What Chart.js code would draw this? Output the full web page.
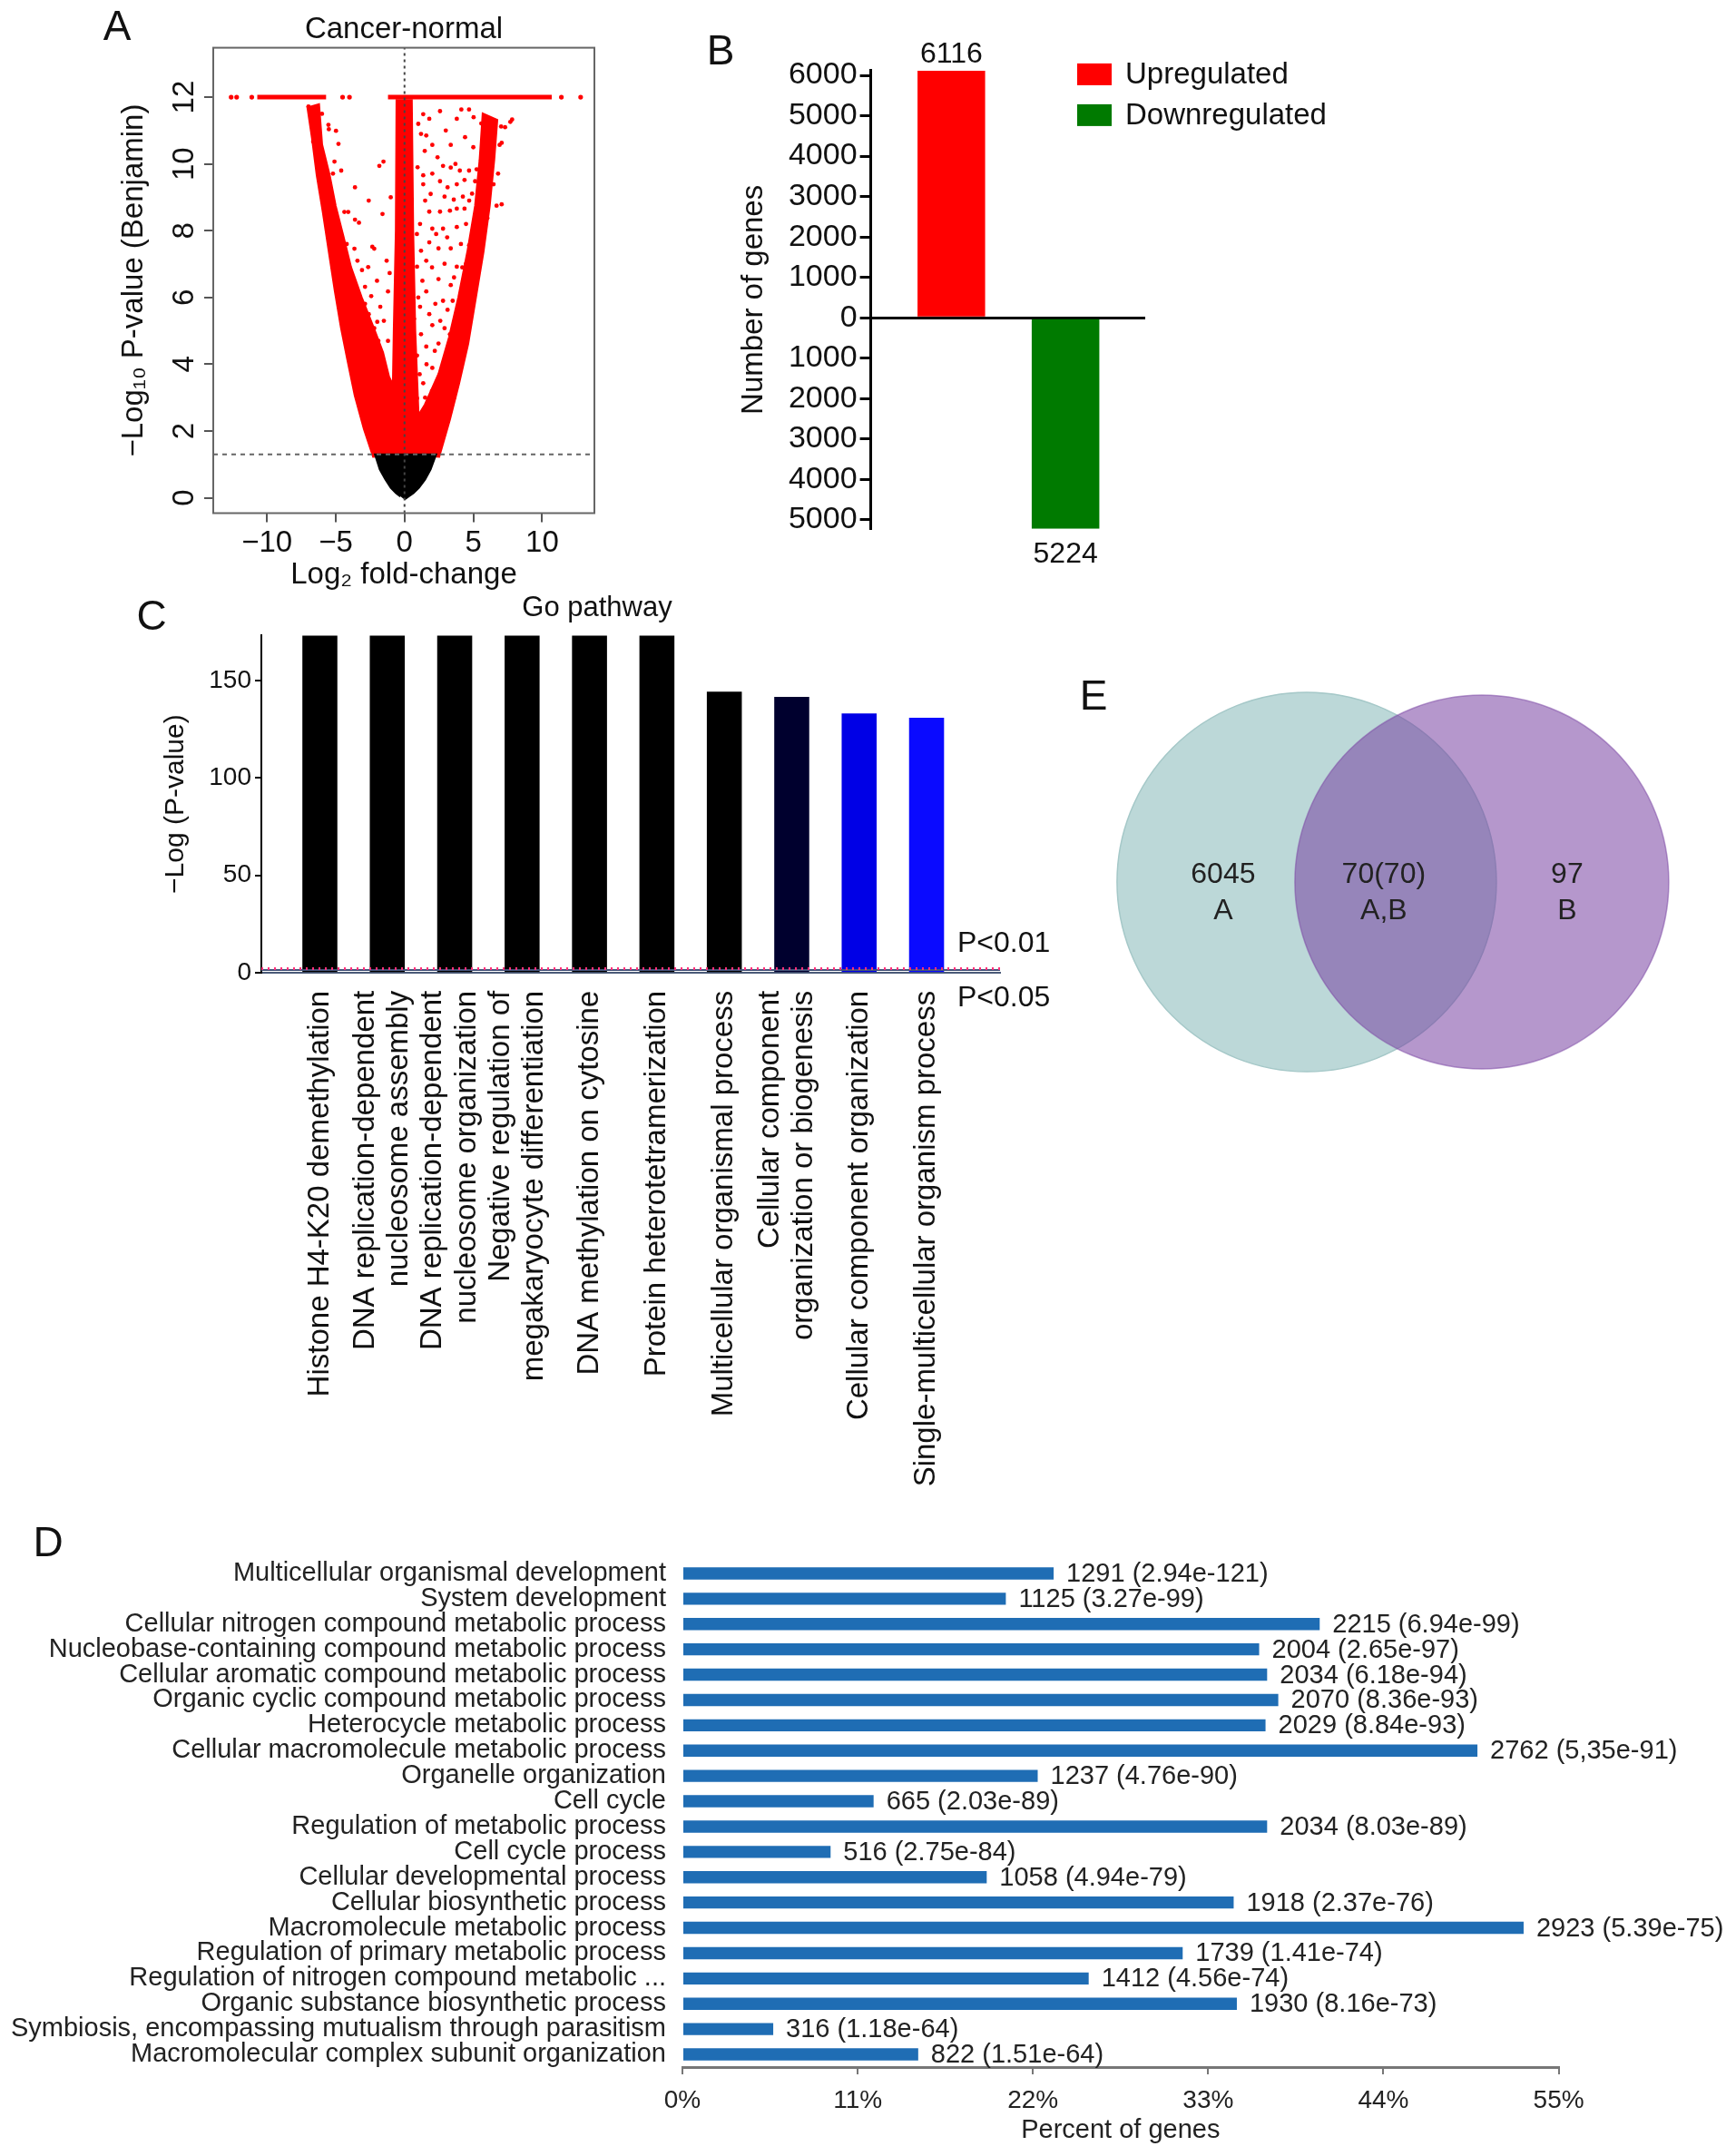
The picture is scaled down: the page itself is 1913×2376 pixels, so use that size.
<!DOCTYPE html>
<html><head><meta charset="utf-8">
<script src="https://cdn.jsdelivr.net/npm/chart.js@4.4.1/dist/chart.umd.min.js"></script>
<style>
html,body{margin:0;padding:0;background:#fff;}
#page{position:relative;width:1913px;height:2376px;overflow:hidden;background:#fff;font-family:'Liberation Sans',Arial,sans-serif;}
canvas{position:absolute;}
.letter{position:absolute;font-size:46px;line-height:46px;color:#111;transform:translate(-50%,-50%);font-family:'Liberation Sans',Arial,sans-serif;}
</style></head><body>
<div id="page">
<canvas id="cA" width="600" height="660" style="left:90px;top:0px"></canvas>
<canvas id="cB" width="720" height="620" style="left:760px;top:20px"></canvas>
<canvas id="cC" width="1060" height="1040" style="left:135px;top:640px"></canvas>
<canvas id="cE" width="720" height="480" style="left:1180px;top:720px"></canvas>
<canvas id="cD" width="1913" height="716" style="left:0px;top:1660px"></canvas>
<div class="letter" style="left:129px;top:28px">A</div>
<div class="letter" style="left:794px;top:55px">B</div>
<div class="letter" style="left:167px;top:678px">C</div>
<div class="letter" style="left:53px;top:1699px">D</div>
<div class="letter" style="left:1205px;top:766px">E</div>
</div>
<script>
// ---------------- DATA ----------------
// Panel A: volcano plot (Log2 fold-change vs -log10 adjusted P)
const volcanoXTicks = [-10, -5, 0, 5, 10];
const volcanoYTicks = [0, 2, 4, 6, 8, 10, 12];
const volcanoPThreshold = 1.3;      // -log10(0.05)
const volcanoTopLevel = 12;         // capped values
const volcanoTopSegments = [[-10.7, -5.7], [-1.2, 10.7]];
const volcanoTopSingles = [-12.6, -12.2, -11.1, -4.5, -4.0, 11.4, 12.8];
// outlines of the densely packed point clouds
const volcanoBlackCore = [[0,-0.05],[0.3,0.04],[0.65,0.14],[1.05,0.3],[1.5,0.55],[1.9,0.85],[2.3,1.3],[-2.15,1.3],[-1.8,0.85],[-1.4,0.55],[-1.0,0.3],[-0.62,0.14],[-0.3,0.04]];
const volcanoRedLeft = [[-0.7,1.3],[-2.26,1.24],[-2.92,2.06],[-3.59,3.07],[-4.14,4.17],[-4.58,5.08],[-5.03,6.18],[-5.47,7.37],[-5.91,8.56],[-6.35,9.66],[-6.69,10.76],[-7.02,11.68],[-6.24,11.77],[-6.02,10.58],[-5.47,9.66],[-5.03,8.74],[-4.47,7.83],[-3.92,6.91],[-3.14,6.0],[-2.26,5.08],[-1.59,4.35],[-1.15,3.62],[-0.71,3.25]];
const volcanoRedCenter = [[-0.9,1.3],[-0.75,5],[-0.6,8],[-0.55,11.9],[0.5,11.9],[0.6,8],[0.75,5],[1.1,1.3]];
const volcanoRedRight = [[0.6,1.3],[2.5,1.24],[3.27,2.34],[3.94,3.43],[4.6,4.62],[5.16,6.0],[5.71,7.37],[6.16,8.74],[6.49,10.12],[6.71,11.31],[5.71,11.49],[5.49,10.12],[5.16,8.74],[4.6,7.37],[3.94,6.0],[3.27,4.81],[2.5,3.71],[1.51,2.79],[0.84,2.34]];
// individually visible points
const volcanoScatter = [
 [1.36,11.49],[1.8,11.35],[2.58,11.58],[3.8,11.35],[4.13,11.63],[4.69,11.63],[5.02,11.4],[5.58,11.21],[6.02,11.3],[7.02,11.12],[7.69,11.26],
 [5.8,10.99],[6.47,10.76],[6.91,10.57],[1.58,10.85],[2.02,10.57],[1.47,10.39],[3.36,10.57],[5.8,10.3],[6.24,10.02],
 [2.8,9.94],[3.36,9.89],[4.02,9.8],[4.69,9.8],[5.24,9.84],[1.36,9.66],[2.02,9.71],[2.58,9.48],[3.13,9.3],[3.8,9.39],[4.36,9.52],[5.13,9.48],[6.02,9.57],[6.47,9.39],[1.36,9.39],
 [2.91,9.02],[3.58,8.93],[4.24,9.02],[4.91,9.11],[5.8,9.02],[6.69,8.75],[2.58,8.57],[1.8,8.57],[3.8,8.66],[4.36,8.66],[5.13,8.47],[6.02,8.38],
 [1.13,8.2],[2.02,8.06],[2.8,8.06],[3.8,8.11],[4.47,8.2],[5.58,7.83],[1.8,7.65],[2.47,7.47],[3.36,7.47],[4.69,7.56],
 [1.58,7.1],[2.91,7.01],[3.8,6.92],[4.47,7.01],[0.91,6.92],[2.47,6.55],[3.36,6.37],[4.24,6.28],[4.91,6.37],[1.58,6.18],
 [1.13,5.72],[2.24,5.81],[3.13,5.63],[4.02,5.81],[4.69,5.72],[0.69,5.36],[2.02,5.17],[2.91,5.08],[3.8,5.08],
 [1.58,4.53],[2.47,4.62],[3.36,4.35],[0.91,4.26],[2.02,3.89],[1.36,3.43],[1.8,2.8],[0.91,2.98],[0.69,1.97],[1.36,2.34],[2.24,3.25],[2.91,3.7],[3.8,4.17],
 [1.2,10.9],[2.4,10.2],[3.0,11.0],[4.4,10.8],[5.0,10.5],[3.7,10.0],[1.9,9.1],[3.3,8.6],[4.7,8.9],[1.5,8.9],[2.3,7.9],[3.1,7.8],[4.1,7.6],[1.2,7.4],
 [2.0,6.9],[3.6,6.6],[4.2,6.9],[1.3,6.5],[2.8,5.9],[3.5,5.9],[4.3,5.3],[1.8,5.5],[2.6,5.3],[3.3,4.9],[1.2,4.9],[2.2,4.4],[3.0,4.1],[1.6,4.0],
 [2.6,3.3],[1.1,3.7],[2.0,3.2],[1.5,3.0],[3.3,3.8],[3.6,3.0],[2.9,2.8],[1.0,6.0],[0.9,7.9],[0.95,9.9],[1.0,11.2],
 [7.82,11.33],[7.31,11.1],[7.06,10.63],[7.06,8.79],[6.8,9.71],
 [-6.98,11.72],[-6.76,11.5],[-6.64,11.13],[-6.2,11.03],[-5.53,11.17],[-4.98,10.99],[-6.64,10.67],[-6.31,10.21],[-5.98,10.07],[-5.09,10.07],[-5.2,9.71],
 [-4.09,8.56],[-3.31,8.24],[-4.2,7.6],[-2.2,7.46],[-3.09,6.82],[-2.64,6.91],[-2.87,6.32],[-2.42,6.04],[-1.76,5.72],[-1.98,5.27],[-1.53,10.07],
 [-1.3,7.1],[-1.08,6.73],[-1.2,6.18],[-3.64,7.46],[-3.42,7.1],[-2.87,5.81],[-2.2,5.08],[-5.5,11.04],[-4.37,8.56],[-3.6,8.33],[-2.34,7.52],[-1.83,9.94],
 [-1.6,8.5],[-2.6,8.9],[-3.6,9.3],[-4.6,9.8],[-2.0,6.5],[-1.5,5.3],[-2.6,5.5],[-3.3,5.9],[-1.2,4.7],[-1.9,4.7],[-2.7,4.9],[-3.6,5.3],[-1.0,9.0],[-4.8,10.6],[-6.0,11.5]
];

// Panel B: numbers of differentially expressed genes
const bSeries = ['Upregulated', 'Downregulated'];
const bValues = [6116, -5224];
const bYTicks = [-5000,-4000,-3000,-2000,-1000,0,1000,2000,3000,4000,5000,6000];

// Panel C: GO pathway enrichment
const cCategories = [
 'Histone H4-K20 demethylation',
 ['DNA replication-dependent','nucleosome assembly'],
 ['DNA replication-dependent','nucleosome organization'],
 ['Negative regulation of','megakaryocyte differentiation'],
 'DNA methylation on cytosine',
 'Protein heterotetramerization',
 'Multicellular organismal process',
 ['Cellular component','organization or biogenesis'],
 'Cellular component organization',
 'Single-multicellular organism process'
];
const cValues = [173.3, 173.3, 173.3, 173.3, 173.3, 173.3, 144.3, 141.6, 133.1, 130.9];
const cColors = ['#000000','#000000','#000000','#000000','#000000','#000000','#000000','#00002e','#0000e6','#0a0aff'];
const cYTicks = [0, 50, 100, 150];
const cThresholds = [2, 1.3];
const cThresholdLabels = ['P<0.01', 'P<0.05'];

// Panel D: GO biological process
const dCategories = [
 'Multicellular organismal development','System development','Cellular nitrogen compound metabolic process',
 'Nucleobase-containing compound metabolic process','Cellular aromatic compound metabolic process',
 'Organic cyclic compound metabolic process','Heterocycle metabolic process','Cellular macromolecule metabolic process',
 'Organelle organization','Cell cycle','Regulation of metabolic process','Cell cycle process','Cellular developmental process',
 'Cellular biosynthetic process','Macromolecule metabolic process','Regulation of primary metabolic process',
 'Regulation of nitrogen compound metabolic ...','Organic substance biosynthetic process',
 'Symbiosis, encompassing mutualism through parasitism','Macromolecular complex subunit organization'
];
const dCounts = [1291,1125,2215,2004,2034,2070,2029,2762,1237,665,2034,516,1058,1918,2923,1739,1412,1930,316,822];
const dPValues = ['2.94e-121','3.27e-99','6.94e-99','2.65e-97','6.18e-94','8.36e-93','8.84e-93','5,35e-91','4.76e-90','2.03e-89','8.03e-89','2.75e-84','4.94e-79','2.37e-76','5.39e-75','1.41e-74','4.56e-74','8.16e-73','1.18e-64','1.51e-64'];
const dPercent = [23.3,20.3,40.0,36.2,36.7,37.4,36.6,49.9,22.3,12.0,36.7,9.3,19.1,34.6,52.8,31.4,25.5,34.8,5.7,14.8];
const dXTicks = [0, 11, 22, 33, 44, 55];

// Panel E: Venn diagram
const vennSets = ['A', 'B'];
const vennRegionCounts = ['6045', '70(70)', '97'];
const vennRegionNames = ['A', 'A,B', 'B'];

// ---------------- DEFAULTS ----------------
const FF = "'Liberation Sans', Arial, Helvetica, sans-serif";
Chart.defaults.font.family = FF;
Chart.defaults.color = '#111';
Chart.defaults.animation = false;
Chart.defaults.responsive = false;
Chart.defaults.maintainAspectRatio = false;
Chart.defaults.devicePixelRatio = 1;
Chart.defaults.events = [];
Chart.defaults.layout.autoPadding = false;
Chart.defaults.plugins.legend.display = false;
Chart.defaults.plugins.tooltip.enabled = false;

const pts = arr => arr.map(p => ({x: p[0], y: p[1]}));
const setTicks = vals => (s => { s.ticks = vals.map(v => ({value: v})); });

// ---------------- PANEL A ----------------
const topRowData = [];
volcanoTopSegments.forEach((s, i) => {
  if (i) topRowData.push({x: (s[0] + volcanoTopSegments[i-1][1]) / 2, y: null});
  topRowData.push({x: s[0], y: volcanoTopLevel}, {x: s[1], y: volcanoTopLevel});
});
const boxPlugin = {id: 'box', afterDraw(chart) {
  const {ctx, chartArea: a} = chart;
  ctx.save(); ctx.strokeStyle = '#666'; ctx.lineWidth = 2;
  ctx.strokeRect(a.left, a.top, a.right - a.left, a.bottom - a.top); ctx.restore();
}};
const AX = {min: -13.9, max: 13.8}, AY = {min: -0.46, max: 13.48};
new Chart(document.getElementById('cA'), {
  type: 'line',
  data: {datasets: [
    {data: pts(volcanoRedLeft), fill: 'shape', backgroundColor: '#ff0000', borderColor: '#ff0000', borderWidth: 3, pointRadius: 0, tension: 0, order: 9},
    {data: pts(volcanoRedCenter), fill: 'shape', backgroundColor: '#ff0000', borderColor: '#ff0000', borderWidth: 3, pointRadius: 0, tension: 0, order: 8},
    {data: pts(volcanoRedRight), fill: 'shape', backgroundColor: '#ff0000', borderColor: '#ff0000', borderWidth: 3, pointRadius: 0, tension: 0, order: 7},
    {data: pts(volcanoBlackCore), fill: 'shape', backgroundColor: '#000000', borderColor: '#000000', borderWidth: 2, pointRadius: 0, tension: 0, order: 6},
    {data: pts(volcanoScatter), showLine: false, pointRadius: 2.4, pointBackgroundColor: '#ff0000', pointBorderWidth: 0, order: 5},
    {data: topRowData, borderColor: '#ff0000', borderWidth: 5, pointRadius: 0, spanGaps: false, order: 4},
    {data: volcanoTopSingles.map(x => ({x, y: volcanoTopLevel})), showLine: false, pointRadius: 2.6, pointBackgroundColor: '#ff0000', pointBorderWidth: 0, order: 3},
    {data: [{x: AX.min, y: volcanoPThreshold}, {x: AX.max, y: volcanoPThreshold}], borderColor: '#666', borderWidth: 2, borderDash: [5, 5], pointRadius: 0, order: 1},
    {data: [{x: 0, y: AY.min}, {x: 0, y: AY.max}], borderColor: '#444', borderWidth: 2, borderDash: [3, 4], pointRadius: 0, order: 0}
  ]},
  options: {
    layout: {padding: {left: 0, right: 35, top: 0, bottom: 0}},
    plugins: {title: {display: true, fullSize: false, text: 'Cancer-normal', font: {size: 33, weight: 'normal'}, color: '#111', padding: {top: 13, bottom: 0}}},
    scales: {
      x: {type: 'linear', min: AX.min, max: AX.max, afterBuildTicks: setTicks(volcanoXTicks),
          ticks: {font: {size: 33}, padding: 4, maxRotation: 0, autoSkip: false, color: '#111',
                  callback: v => v < 0 ? '\u2212' + Math.abs(v) : String(v)},
          grid: {drawOnChartArea: false, tickLength: 10, color: '#555', lineWidth: 2}, border: {display: false},
          title: {display: true, text: 'Log\u2082 fold-change', font: {size: 33}, color: '#111', padding: {top: 0, bottom: 6}},
          afterFit: s => { s.height = 94.5; }},
      y: {type: 'linear', min: AY.min, max: AY.max, afterBuildTicks: setTicks(volcanoYTicks),
          ticks: {font: {size: 33}, padding: 3, minRotation: 90, maxRotation: 90, crossAlign: 'center', autoSkip: false, color: '#111'},
          grid: {drawOnChartArea: false, tickLength: 10, color: '#555', lineWidth: 2}, border: {display: false},
          title: {display: true, text: '\u2212Log\u2081\u2080 P-value (Benjamin)', font: {size: 33}, color: '#111', padding: {top: 38, bottom: 0}},
          afterFit: s => { s.width = 145; }}
    }
  },
  plugins: [boxPlugin]
});

// ---------------- PANEL B ----------------
const bPlugin = {id: 'bExtras', afterDatasetsDraw(chart) {
  const ctx = chart.ctx; ctx.save();
  ctx.font = '32px ' + FF; ctx.fillStyle = '#111'; ctx.textAlign = 'center'; ctx.textBaseline = 'middle';
  chart.data.datasets.forEach((ds, i) => {
    const el = chart.getDatasetMeta(i).data[0];
    const v = ds.data[0].y;
    ctx.fillText(String(Math.abs(v)), el.x, v >= 0 ? el.y - 18 : el.y + 28);
  });
  // legend
  const a = chart.chartArea;
  ctx.font = '33px ' + FF; ctx.textAlign = 'left';
  chart.data.datasets.forEach((ds, i) => {
    const bx = a.right - 74, by = a.top - 8 + i * 45;
    ctx.fillStyle = ds.backgroundColor; ctx.fillRect(bx, by, 38, 24);
    ctx.fillStyle = '#111'; ctx.fillText(ds.label, bx + 53, by + 13);
  });
  ctx.restore();
}};
new Chart(document.getElementById('cB'), {
  type: 'bar',
  data: {datasets: bSeries.map((name, i) => ({
    label: name, data: [{x: i + 1, y: bValues[i]}], backgroundColor: i === 0 ? '#ff0000' : '#007a00',
    grouped: false, barPercentage: 0.592, categoryPercentage: 1
  }))},
  options: {
    layout: {padding: {top: 57.9, right: 219, bottom: 57.2, left: 0}},
    scales: {
      x: {type: 'linear', min: 0.295, max: 2.69, offset: false, position: {y: 0}, afterBuildTicks: setTicks([1, 2]),
          ticks: {display: false}, grid: {display: false, offset: false, drawTicks: false}, border: {display: true, color: '#000', width: 3}},
      y: {type: 'linear', min: bValues[1], max: bValues[0], afterBuildTicks: setTicks(bYTicks),
          ticks: {font: {size: 34}, color: '#111', padding: 3, autoSkip: false, callback: v => String(Math.abs(v))},
          grid: {drawOnChartArea: false, tickLength: 12, color: '#000', lineWidth: 3}, border: {color: '#000', width: 3},
          title: {display: true, text: 'Number of genes', font: {size: 33}, color: '#111', padding: {top: 51, bottom: 0}},
          afterFit: s => { s.width = 199.6; }}
    }
  },
  plugins: [bPlugin]
});

// ---------------- PANEL C ----------------
const cLineOffsets = [-0.32, 0.18];   // horizontal placement of the two lines of wrapped labels
const cTickItems = [];
cCategories.forEach((c, i) => {
  if (Array.isArray(c)) c.forEach((line, j) => cTickItems.push({value: i + 1 + cLineOffsets[j], label: line}));
  else cTickItems.push({value: i + 1, label: c});
});
const cPlugin = {id: 'cExtras', afterDatasetsDraw(chart) {
  const ctx = chart.ctx, a = chart.chartArea, ys = chart.scales.y;
  ctx.save(); ctx.font = '32px ' + FF; ctx.fillStyle = '#111'; ctx.textAlign = 'left'; ctx.textBaseline = 'middle';
  ctx.fillText(cThresholdLabels[0], a.right - 47, ys.getPixelForValue(cThresholds[0]) - 27.5);
  ctx.fillText(cThresholdLabels[1], a.right - 47, ys.getPixelForValue(cThresholds[1]) + 31.5);
  ctx.restore();
}};
const CX = {min: 0.132, max: 11.09};
new Chart(document.getElementById('cC'), {
  type: 'bar',
  data: {datasets: [
    {type: 'line', data: [{x: CX.min, y: cThresholds[1]}, {x: CX.max, y: cThresholds[1]}], borderColor: '#44557a', borderWidth: 2, pointRadius: 0, order: 1},
    {type: 'line', data: [{x: CX.min, y: cThresholds[0]}, {x: CX.max, y: cThresholds[0]}], borderColor: '#ff2f7a', borderWidth: 3, borderDash: [2, 5], pointRadius: 0, order: 0},
    {type: 'bar', data: cValues.map((v, i) => ({x: i + 1, y: v})), backgroundColor: cColors, barThickness: 37.9, order: 2}
  ]},
  options: {
    layout: {padding: {top: 0, right: 93, bottom: 0, left: 79}},
    plugins: {title: {display: true, text: 'Go pathway', font: {size: 31, weight: 'normal'}, color: '#111', padding: {top: 11.4, bottom: 11.8}}},
    scales: {
      x: {type: 'linear', min: CX.min, max: CX.max, offset: false, afterBuildTicks: setTicks(cTickItems.map(t => t.value)),
          ticks: {font: {size: 33}, color: '#111', padding: 20, minRotation: 90, maxRotation: 90, autoSkip: false,
                  callback: (v, idx) => cTickItems[idx].label},
          grid: {display: false, drawTicks: false, offset: false}, border: {display: true, color: '#4a5a78', width: 2},
          afterFit: s => { s.height = 608.2; }},
      y: {type: 'linear', min: 0, max: 173.3, afterBuildTicks: setTicks(cYTicks),
          ticks: {font: {size: 28}, color: '#111', padding: 4, autoSkip: false},
          grid: {drawOnChartArea: false, tickLength: 7, color: '#000', lineWidth: 2}, border: {color: '#000', width: 2},
          title: {display: true, text: '\u2212Log (P-value)', font: {size: 30}, color: '#111', padding: {top: -38, bottom: 0}},
          afterFit: s => { s.width = 74; }}
    }
  },
  plugins: [cPlugin]
});

// ---------------- PANEL D ----------------
const dPlugin = {id: 'dValues', afterDatasetsDraw(chart) {
  const ctx = chart.ctx; ctx.save();
  ctx.font = '29px ' + FF; ctx.fillStyle = '#222'; ctx.textAlign = 'left'; ctx.textBaseline = 'middle';
  chart.getDatasetMeta(0).data.forEach((el, i) => {
    ctx.fillText(dCounts[i] + ' (' + dPValues[i] + ')', el.x + 14, el.y + 1);
  });
  ctx.restore();
}};
new Chart(document.getElementById('cD'), {
  type: 'bar',
  data: {labels: dCategories, datasets: [{data: dPercent, backgroundColor: '#1f6db4', barPercentage: 0.48, categoryPercentage: 1}]},
  options: {
    indexAxis: 'y',
    layout: {padding: {top: 60, right: 195.4, bottom: 0, left: 0}},
    scales: {
      x: {type: 'linear', min: 0, max: 55, afterBuildTicks: setTicks(dXTicks),
          ticks: {font: {size: 28}, color: '#222', padding: 12, autoSkip: false, maxRotation: 0, callback: v => v + '%'},
          grid: {drawOnChartArea: false, tickLength: 8, color: '#777', lineWidth: 2}, border: {color: '#777', width: 3},
          title: {display: true, text: 'Percent of genes', font: {size: 29}, color: '#222', padding: {top: 0, bottom: 11}},
          afterFit: s => { s.height = 98; }},
      y: {ticks: {font: {size: 29}, color: '#222', padding: 18, autoSkip: false},
          grid: {display: false, drawTicks: false}, border: {display: false},
          afterFit: s => { s.width = 752; }}
    }
  },
  plugins: [dPlugin]
});

// ---------------- PANEL E ----------------
const ePlugin = {id: 'vennText', afterDatasetsDraw(chart) {
  const ctx = chart.ctx, xs = chart.scales.x, ys = chart.scales.y;
  const xpos = [-0.477, 0.44, 1.487];
  const yc = ys.getPixelForValue(0) + 12;
  ctx.save(); ctx.font = '32px ' + FF; ctx.fillStyle = '#222'; ctx.textAlign = 'center'; ctx.textBaseline = 'middle';
  vennRegionCounts.forEach((c, i) => {
    const x = xs.getPixelForValue(xpos[i]);
    ctx.fillText(c, x, yc - 20);
    ctx.fillText(vennRegionNames[i], x, yc + 20);
  });
  ctx.restore();
}};
new Chart(document.getElementById('cE'), {
  type: 'scatter',
  data: {datasets: [{
    data: vennSets.map((s, i) => ({x: i, y: 0})),
    pointRadius: [209, 206],
    pointBackgroundColor: ['rgb(188,216,216)', 'rgba(118,62,160,0.54)'],
    pointBorderColor: ['rgb(165,200,200)', 'rgba(125,75,165,0.55)'],
    pointBorderWidth: 1.5, clip: false
  }]},
  options: {
    layout: {padding: 0, autoPadding: false},
    scales: {x: {display: false, min: -1.347, max: 2.384}, y: {display: false, min: -0.95, max: 1.05}}
  },
  plugins: [ePlugin]
});
</script>
</body></html>
